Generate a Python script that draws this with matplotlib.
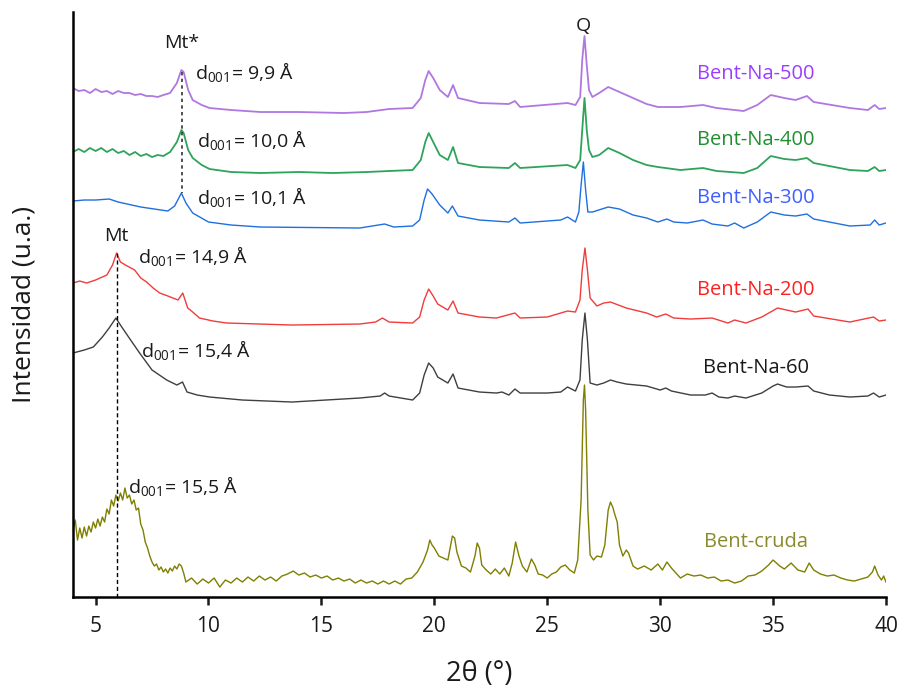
import matplotlib
matplotlib.use("Agg")
import matplotlib.pyplot as plt

plt.rcParams['font.family'] = ['Open Sans', 'DejaVu Sans']
plt.rcParams['mathtext.default'] = 'regular'

# difractogramas desplazados verticalmente (u.a.)
cruda_x = [4.0, 4.1, 4.2, 4.3, 4.4, 4.5, 4.6, 4.7, 4.8, 4.9, 5.0, 5.1, 5.2, 5.3, 5.4, 5.5, 5.6, 5.7, 5.8, 5.9,
           6.0, 6.1, 6.2, 6.3, 6.4, 6.5, 6.6, 6.7, 6.8, 6.9, 7.0, 7.1, 7.2, 7.3, 7.4, 7.5, 7.6, 7.7, 7.8, 7.9,
           8.0, 8.1, 8.2, 8.3, 8.4, 8.5, 8.6, 8.7, 8.8, 8.9, 9.0, 9.25, 9.5, 9.75, 10.0, 10.25, 10.5, 10.75,
           11.0, 11.25, 11.5, 11.75, 12.0, 12.25, 12.5, 12.75, 13.0, 13.25, 13.5, 13.75, 14.0, 14.25, 14.5,
           14.75, 15.0, 15.25, 15.5, 15.75, 16.0, 16.25, 16.5, 16.75, 17.0, 17.25, 17.5, 17.75, 18.0, 18.25,
           18.5, 18.75, 19.0, 19.25, 19.5, 19.7, 19.8, 19.9, 20.0, 20.2, 20.4, 20.6, 20.7, 20.8, 20.9, 21.0,
           21.2, 21.4, 21.6, 21.8, 21.9, 22.0, 22.1, 22.3, 22.5, 22.7, 22.9, 23.1, 23.3, 23.45, 23.6, 23.75,
           23.9, 24.1, 24.3, 24.45, 24.6, 24.8, 25.0, 25.2, 25.4, 25.6, 25.8, 26.0, 26.2, 26.35, 26.5, 26.6,
           26.65, 26.7, 26.8, 26.9, 27.05, 27.2, 27.4, 27.55, 27.7, 27.8, 27.9, 28.0, 28.1, 28.2, 28.35, 28.5,
           28.6, 28.8, 29.0, 29.3, 29.6, 29.9, 30.1, 30.3, 30.5, 30.7, 30.9, 31.2, 31.5, 31.8, 32.1, 32.4,
           32.7, 33.0, 33.3, 33.6, 33.9, 34.2, 34.5, 34.8, 35.0, 35.3, 35.5, 35.8, 36.1, 36.4, 36.6, 36.8,
           37.1, 37.4, 37.7, 38.0, 38.3, 38.6, 38.9, 39.2, 39.4, 39.5, 39.65, 39.8, 39.9, 40.0]
cruda_y = [67, 77, 57, 69, 59, 70, 61, 71, 65, 75, 69, 78, 71, 80, 75, 88, 83, 97, 91, 102,
           96, 104, 97, 109, 99, 102, 93, 97, 87, 89, 73, 67, 55, 49, 41, 35, 31, 33, 27, 30,
           25, 28, 24, 29, 26, 31, 28, 33, 31, 24, 15, 19, 13, 18, 14, 19, 10, 17,
           14, 19, 15, 20, 16, 21, 17, 20, 16, 21, 23, 26, 22, 24, 20,
           22, 19, 21, 17, 19, 16, 18, 14, 17, 14, 16, 13, 16, 13, 16,
           13, 18, 19, 25, 35, 47, 57, 52, 49, 41, 39, 37, 49, 61, 59, 45,
           31, 29, 25, 41, 54, 49, 32, 27, 23, 28, 23, 29, 21, 34, 55, 41,
           31, 25, 38, 32, 23, 22, 19, 23, 25, 30, 32, 27, 24, 37, 97, 197,
           212, 187, 87, 42, 37, 41, 40, 52, 87, 95, 90, 82, 75, 52, 41, 47,
           44, 31, 28, 31, 27, 33, 27, 35, 29, 24, 19, 23, 21, 22, 19, 20,
           16, 17, 14, 16, 21, 22, 26, 32, 37, 31, 28, 34, 27, 25, 34, 27,
           23, 21, 22, 19, 17, 16, 18, 20, 25, 31, 22, 17, 21, 15]

na60_x = [4.0, 4.5, 4.9, 5.3, 5.6, 5.9, 6.1, 6.4, 6.95, 7.5, 8.15, 8.6, 8.85, 9.05, 9.5, 10.05, 11.5,
          13.7, 16.7, 17.6, 17.8, 18.0, 19.04, 19.35, 19.55, 19.75, 19.95, 20.15, 20.6, 20.83, 21.05,
          22.0, 22.75, 23.0, 23.3, 23.57, 23.8, 25.0, 25.6, 25.9, 26.25, 26.45, 26.55, 26.67, 26.78,
          26.9, 27.2, 27.5, 27.8, 28.1, 28.5, 29.4, 30.0, 30.25, 30.5, 31.35, 32.0, 32.3, 32.6, 33.0,
          33.3, 33.8, 34.5, 35.0, 35.2, 35.6, 36.0, 36.55, 36.8, 37.5, 38.4, 39.2, 39.45, 39.7, 40.0]
na60_y = [244, 247, 250, 260, 269, 279, 272, 262, 244, 227, 217, 212, 215, 205, 202, 200, 197,
          195, 199, 201, 204, 201, 197, 204, 222, 234, 229, 220, 214, 223, 209,
          205, 204, 205, 202, 208, 204, 204, 205, 210, 206, 217, 257, 284, 257,
          214, 212, 214, 217, 215, 213, 211, 207, 209, 206, 202, 202, 204, 200, 199,
          201, 199, 204, 211, 213, 210, 210, 211, 206, 202, 200, 201, 204, 200, 202]

na200_x = [4.0, 4.3, 4.6, 5.0, 5.5, 5.75, 5.93, 6.1, 6.4, 6.73, 7.0, 7.26, 7.55, 7.84, 8.2, 8.65, 8.86,
           9.08, 9.3, 9.6, 10.2, 10.8, 13.7, 16.7, 17.4, 17.7, 18.0, 19.04, 19.35, 19.55, 19.75, 19.95,
           20.15, 20.6, 20.83, 21.05, 22.0, 22.75, 23.57, 23.8, 25.0, 25.9, 26.25, 26.45, 26.55, 26.67,
           26.78, 26.9, 27.2, 27.5, 27.8, 28.5, 29.4, 29.85, 30.25, 30.6, 31.35, 32.3, 33.0, 33.3, 33.8,
           34.5, 35.2, 36.0, 36.55, 36.8, 38.4, 39.45, 39.7, 40.0]
na200_y = [314, 316, 314, 317, 322, 332, 344, 335, 331, 327, 319, 315, 309, 304, 301, 297, 304,
           289, 285, 279, 276, 274, 272, 273, 275, 279, 275, 274, 280, 297, 308, 301,
           293, 287, 296, 284, 280, 279, 284, 279, 280, 286, 285, 297, 327, 349,
           327, 299, 291, 294, 295, 289, 284, 280, 283, 279, 278, 279, 274, 277, 274,
           280, 289, 285, 288, 281, 275, 280, 276, 277]

na300_x = [4.0, 4.5, 5.0, 5.6, 6.0, 7.0, 7.6, 8.2, 8.5, 8.8, 9.0, 9.3, 10.0, 11.0, 12.3, 16.7, 17.8,
           18.2, 19.04, 19.35, 19.55, 19.7, 19.9, 20.24, 20.6, 20.8, 21.05, 22.0, 23.3, 23.57, 23.8,
           25.6, 25.9, 26.25, 26.4, 26.5, 26.6, 26.7, 26.8, 27.0, 27.7, 28.2, 28.8, 29.4, 29.9, 30.3,
           30.6, 31.2, 31.9, 32.3, 33.0, 33.3, 33.7, 34.3, 34.9, 35.5, 36.0, 36.5, 36.8, 38.4, 39.3,
           39.5, 39.7, 40.0]
na300_y = [396, 397, 397, 398, 395, 390, 388, 386, 391, 404, 394, 384, 375, 372, 370, 369, 373,
           370, 371, 377, 397, 408, 403, 392, 384, 391, 381, 377, 375, 379, 374,
           377, 380, 375, 385, 412, 435, 407, 385, 385, 390, 388, 382, 379, 375, 378,
           375, 374, 377, 373, 371, 374, 369, 375, 385, 382, 381, 383, 378, 371, 372,
           377, 372, 374]

na400_x = [4.0, 4.25, 4.5, 4.75, 5.0, 5.25, 5.5, 5.75, 6.0, 6.25, 6.5, 6.75, 7.0, 7.25, 7.5, 7.75,
           8.0, 8.3, 8.6, 8.8, 8.9, 9.1, 9.3, 9.7, 10.05, 11.0, 12.3, 14.0, 15.5, 17.0, 18.0, 19.04,
           19.4, 19.6, 19.75, 19.95, 20.24, 20.6, 20.83, 21.05, 22.0, 23.3, 23.57, 23.8, 25.9, 26.25,
           26.46, 26.55, 26.65, 26.75, 26.85, 27.0, 27.3, 27.7, 28.2, 28.8, 29.4, 29.9, 30.9, 31.9,
           32.5, 33.7, 34.3, 34.9, 35.5, 36.0, 36.5, 36.8, 38.4, 39.2, 39.5, 39.7, 40.0]
na400_y = [445, 448, 445, 449, 446, 449, 445, 448, 444, 446, 442, 445, 441, 443, 440, 442,
           441, 445, 455, 467, 464, 447, 439, 432, 428, 425, 424, 425, 424, 425, 426, 427,
           437, 455, 464, 455, 442, 437, 450, 434, 430, 429, 434, 429, 432, 429,
           437, 467, 499, 467, 447, 440, 442, 449, 444, 437, 432, 430, 427, 429,
           426, 424, 429, 441, 438, 437, 439, 434, 427, 426, 430, 426, 427]

na500_x = [4.0, 4.25, 4.5, 4.75, 5.0, 5.25, 5.5, 5.75, 6.0, 6.25, 6.5, 6.75, 7.0, 7.25, 7.5, 7.75,
           8.0, 8.3, 8.6, 8.8, 8.9, 9.1, 9.3, 9.7, 10.05, 11.0, 12.3, 14.0, 16.0, 17.0, 18.0, 19.04,
           19.4, 19.6, 19.75, 19.95, 20.24, 20.6, 20.83, 21.05, 22.0, 23.3, 23.57, 23.8, 25.9, 26.25,
           26.46, 26.55, 26.65, 26.75, 26.85, 27.0, 27.3, 27.7, 28.2, 28.8, 29.4, 29.9, 30.9, 31.9,
           32.5, 33.7, 34.3, 34.9, 35.5, 36.0, 36.5, 36.8, 38.4, 39.2, 39.5, 39.7, 40.0]
na500_y = [509, 506, 507, 504, 508, 505, 506, 503, 506, 504, 504, 502, 503, 501, 501, 500,
           502, 504, 514, 527, 525, 507, 497, 492, 489, 487, 485, 485, 484, 485, 488, 489,
           499, 517, 526, 519, 507, 500, 512, 499, 494, 493, 496, 490, 494, 492,
           500, 537, 561, 532, 507, 500, 504, 510, 505, 499, 493, 490, 490, 492,
           489, 486, 492, 502, 499, 497, 501, 495, 489, 487, 492, 488, 489]

muestras = ['Bent-cruda', 'Bent-Na-60', 'Bent-Na-200', 'Bent-Na-300', 'Bent-Na-400', 'Bent-Na-500']
series_x = [cruda_x, na60_x, na200_x, na300_x, na400_x, na500_x]
series_y = [cruda_y, na60_y, na200_y, na300_y, na400_y, na500_y]
line_colors = ['#7f7f00', '#3f3f3f', '#f03c3c', '#1f6fe0', '#2ea35a', '#b077e0']
line_widths = [1.0, 1.0, 1.0, 1.0, 1.3, 1.3]
text_colors = ['#8a8a2a', '#1a1a1a', '#ff2020', '#3f5fff', '#1f8f2f', '#9b3dff']
label_y = [55, 229, 307, 399, 457, 523]

fig = plt.figure(figsize=(8.99, 6.86), dpi=100)
ax = fig.add_axes([0.0812, 0.1297, 0.9043, 0.8528])

for xs, ys, c, w in zip(series_x, series_y, line_colors, line_widths):
    ax.plot(xs, ys, color=c, lw=w)

for name, c, ly in zip(muestras, text_colors, label_y):
    ax.text(34.25, ly, name, color=c, fontsize=14.5, ha='center', va='center')

# reflexion d001 de la montmorillonita
ax.plot([8.82, 8.82], [525, 404], color='#333333', lw=1.2, ls=(0, (2, 2)))
ax.plot([5.93, 5.93], [344, 0], color='black', lw=1.0, ls=(0, (3, 2)))

ax.text(8.82, 554, 'Mt*', fontsize=14, ha='center', va='center', color='#1a1a1a')
ax.text(5.93, 361, 'Mt', fontsize=14, ha='center', va='center', color='#1a1a1a')
ax.text(26.6, 571, 'Q', fontsize=14, ha='center', va='center', color='#1a1a1a')

d001 = [(9.4, 525, '9,9'), (9.48, 457, '10,0'), (9.48, 400, '10,1'),
        (6.88, 341, '14,9'), (7.0, 247, '15,4'), (6.45, 111, '15,5')]
for dx, dy, val in d001:
    ax.text(dx, dy, r'd$_{001}$= ' + val + ' Å', fontsize=14, ha='left', va='center',
            color='#1a1a1a')

ax.set_xlim(4, 40)
ax.set_ylim(0, 585)
ax.set_xticks([5, 10, 15, 20, 25, 30, 35, 40])
ax.set_yticks([])
ax.tick_params(axis='x', direction='out', length=6, width=1.8, labelsize=15,
               pad=8, colors='#1a1a1a')
for side in ['top', 'right']:
    ax.spines[side].set_visible(False)
for side in ['left', 'bottom']:
    ax.spines[side].set_linewidth(1.8)
    ax.spines[side].set_color('black')

ax.set_xlabel('2θ (°)', fontsize=19.5, color='#1a1a1a', labelpad=16)
ax.set_ylabel('Intensidad (u.a.)', fontsize=19, color='#1a1a1a', labelpad=26)

fig.savefig('out.png', dpi=100)
